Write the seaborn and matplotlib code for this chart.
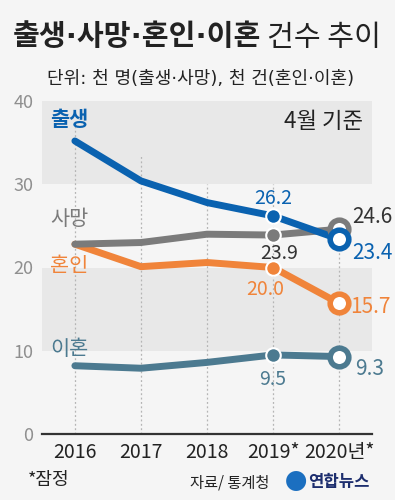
import pandas as pd
import seaborn as sns
from matplotlib import pyplot as plt

years = ["2016", "2017", "2018", "2019*", "2020년*"]
series = ["혼인", "사망", "이혼", "출생"]
births = [35.2, 30.4, 27.8, 26.2, 23.4]
deaths = [22.8, 23.0, 24.0, 23.9, 24.6]
marriages = [22.8, 20.1, 20.6, 20.0, 15.7]
divorces = [8.2, 7.9, 8.6, 9.5, 9.3]

colors = {"출생": "#0a62b0", "사망": "#7b7b7b", "혼인": "#f0843a", "이혼": "#4c7a90"}
values = {"출생": births, "사망": deaths, "혼인": marriages, "이혼": divorces}

rows = []
for name in series:
    for i, v in enumerate(values[name]):
        rows.append({"pos": i, "value": v, "series": name})
df = pd.DataFrame(rows)

sns.set_theme(style="white")
plt.rcParams["font.family"] = ["Noto Sans CJK KR", "DejaVu Sans"]
# narrow middle dots from DejaVu, Korean from Noto
mixed = ["DejaVu Sans", "Noto Sans CJK KR"]

bg = "#f5f5f5"
fig = plt.figure(figsize=(3.95, 5.0), dpi=100, facecolor=bg)
ax = fig.add_axes([0.106, 0.132, 0.836, 0.666], facecolor=bg)

ax.axhspan(10, 20, color="#e8e8e8", zorder=0, lw=0)
ax.axhspan(30, 40, color="#e8e8e8", zorder=0, lw=0)
grid_top = [37.3, 33.5, 30, 30, 24]
for i in range(len(years)):
    ax.plot([i, i], [0, grid_top[i]], color="#b5b5b5", lw=0.9,
            ls=(0, (1.5, 2)), zorder=1)

sns.lineplot(data=df, x="pos", y="value", hue="series", hue_order=series,
             palette=colors, lw=5, legend=False, ax=ax)
for k, line in enumerate(ax.get_lines()[-4:]):
    line.set_zorder(3 + k)
    line.set_solid_capstyle("round")
    line.set_solid_joinstyle("round")

for k, name in enumerate(series):
    v = values[name]
    ax.scatter([3], [v[3]], s=110, color=colors[name], edgecolor="white",
               linewidth=1.5, zorder=10 + k)
    ax.scatter([4], [v[4]], s=180, color="white", edgecolor=colors[name],
               linewidth=4, zorder=10 + k)

ax.set_xlim(-0.5, 4.5)
ax.set_ylim(0, 40)
ax.set_yticks([0, 10, 20, 30, 40])
ax.set_yticklabels(["0", "10", "20", "30", "40"], color="#8f8f8f", fontsize=13)
ax.set_xticks(range(len(years)))
ax.set_xticklabels(years, color="#222222", fontsize=14)
ax.tick_params(axis="both", length=0, pad=6)
ax.set_xlabel("")
ax.set_ylabel("")
for s in ["top", "right", "left"]:
    ax.spines[s].set_visible(False)
ax.spines["bottom"].set_color("#333333")
ax.spines["bottom"].set_linewidth(1.6)

# series names
ax.text(-0.38, 37.8, "출생", color=colors["출생"], fontsize=15, fontweight="bold", va="center")
ax.text(-0.38, 25.8, "사망", color=colors["사망"], fontsize=15, fontweight="medium", va="center")
ax.text(-0.38, 20.2, "혼인", color=colors["혼인"], fontsize=15, fontweight="medium", va="center")
ax.text(-0.38, 10.2, "이혼", color=colors["이혼"], fontsize=15, fontweight="medium", va="center")
ax.text(4.36, 37.5, "4월 기준", color="#222222", fontsize=16, ha="right", va="center")

# value labels
ax.text(3, 28.3, "26.2", color=colors["출생"], fontsize=14, ha="center", va="center")
ax.text(3.1, 21.7, "23.9", color="#333333", fontsize=14, ha="center", va="center")
ax.text(2.88, 17.4, "20.0", color=colors["혼인"], fontsize=14, ha="center", va="center")
ax.text(3, 6.6, "9.5", color=colors["이혼"], fontsize=14, ha="center", va="center")
ax.text(4.2, 26.1, "24.6", color="#333333", fontsize=15, ha="left", va="center")
ax.text(4.2, 21.7, "23.4", color=colors["출생"], fontsize=15, fontweight="medium", ha="left", va="center")
ax.text(4.16, 15.2, "15.7", color=colors["혼인"], fontsize=15, ha="left", va="center")
ax.text(4.24, 7.8, "9.3", color=colors["이혼"], fontsize=15, ha="left", va="center")

# title: bold part then regular part right after it
t1 = fig.text(0.033, 0.925, "출생·사망·혼인·이혼", fontsize=21, fontweight="bold",
              color="#222222", va="center", family=mixed)
renderer = fig.canvas.get_renderer()
bb = t1.get_window_extent(renderer=renderer)
x_end = bb.x1 / fig.bbox.width
fig.text(x_end + 0.015, 0.925, "건수 추이", fontsize=21, color="#222222", va="center")
fig.text(0.12, 0.842, "단위: 천 명(출생·사망), 천 건(혼인·이혼)", fontsize=13, color="#222222",
         va="center", family=mixed)
fig.text(0.07, 0.04, "*잠정", fontsize=13, color="#222222", va="center")
fig.text(0.48, 0.035, "자료/ 통계청", fontsize=11, color="#222222", va="center")
fig.text(0.72, 0.035, "●", fontsize=16, color="#1b6fc0", va="center")
fig.text(0.78, 0.035, "연합뉴스", fontsize=12, fontweight="bold", color="#1d2e6e", va="center")

fig.savefig("out.png", dpi=100, facecolor=bg)
